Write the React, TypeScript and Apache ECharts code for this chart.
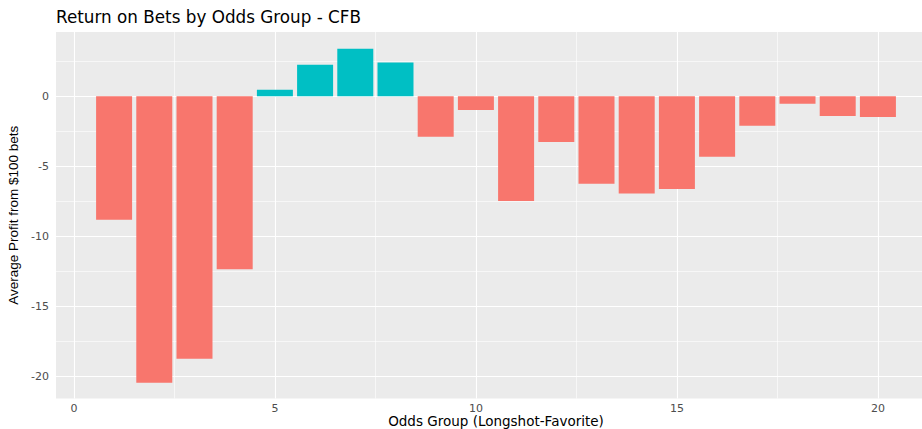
import React, { useEffect, useRef } from "react";
import * as echarts from "echarts";

const groups = [1, 2, 3, 4, 5, 6, 7, 8, 9, 10, 11, 12, 13, 14, 15, 16, 17, 18, 19, 20];
const avgProfit = [-8.82, -20.45, -18.75, -12.35, 0.45, 2.25, 3.38, 2.4, -2.9, -0.98, -7.48, -3.27, -6.25, -6.95, -6.62, -4.32, -2.12, -0.54, -1.42, -1.48];
const xTicks = [0, 5, 10, 15, 20];
const yTicks = [-20, -15, -10, -5, 0];
const xMinor = [2.5, 7.5, 12.5, 17.5];
const yMinor = [-17.5, -12.5, -7.5, -2.5, 2.5];

const POS = "#00BFC4";
const NEG = "#F8766D";

export default function App() {
  const ref = useRef<HTMLDivElement>(null);
  useEffect(() => {
    if (!ref.current) return;
    const chart = echarts.init(ref.current, undefined, { renderer: "svg" });
    const barData = groups.map((g, i) => ({
      value: [g, avgProfit[i]],
      itemStyle: { color: avgProfit[i] >= 0 ? POS : NEG },
    }));
    const gridLine = (w: number) => ({ color: "#FFFFFF", width: w, type: "solid" as const });
    chart.setOption({
      animation: false,
      title: {
        text: "Return on Bets by Odds Group - CFB",
        left: 56,
        top: 8,
        padding: 0,
        textStyle: { fontFamily: "DejaVu Sans", fontSize: 16.8, fontWeight: "normal", color: "#000" },
      },
      grid: {
        left: 56,
        top: 32,
        width: 880,
        height: 366.6,
        show: true,
        backgroundColor: "#EBEBEB",
        borderWidth: 0,
        containLabel: false,
        outerBoundsMode: "none",
      },
      xAxis: {
        type: "value",
        min: -0.445,
        max: 21.445,
        name: "Odds Group (Longshot-Favorite)",
        nameLocation: "middle",
        nameGap: 15.5,
        nameMoveOverlap: false,
        nameTextStyle: { fontFamily: "DejaVu Sans", fontSize: 13.5, color: "#000" },
        axisLine: { show: false },
        axisTick: { show: true, customValues: xTicks, length: 3.5, lineStyle: { color: "#333", width: 1 } },
        axisLabel: { customValues: xTicks, fontFamily: "DejaVu Sans", fontSize: 11, color: "#4D4D4D", margin: 4 },
        splitLine: { show: false },
      },
      yAxis: {
        type: "value",
        min: -21.59,
        max: 4.58,
        name: "Average Profit from $100 bets",
        nameLocation: "middle",
        nameGap: 32,
        nameTextStyle: { fontFamily: "Liberation Sans", fontSize: 13.5, color: "#000" },
        axisLine: { show: false },
        axisTick: { show: true, customValues: yTicks, length: 3.5, lineStyle: { color: "#333", width: 1 } },
        axisLabel: { customValues: yTicks, fontFamily: "DejaVu Sans", fontSize: 11, color: "#4D4D4D", margin: 7 },
        splitLine: { show: false },
      },
      series: [
        {
          type: "line",
          data: [],
          silent: true,
          markLine: {
            silent: true,
            symbol: "none",
            z: 1,
            label: { show: false },
            lineStyle: gridLine(0.6),
            data: [...xMinor.map((v) => ({ xAxis: v })), ...yMinor.map((v) => ({ yAxis: v }))],
          },
        },
        {
          type: "line",
          data: [],
          silent: true,
          markLine: {
            silent: true,
            symbol: "none",
            z: 1,
            label: { show: false },
            lineStyle: gridLine(1.1),
            data: [...xTicks.map((v) => ({ xAxis: v })), ...yTicks.map((v) => ({ yAxis: v }))],
          },
        },
        {
          type: "bar",
          z: 3,
          barWidth: 36,
          data: barData,
        },
      ],
    });
    return () => chart.dispose();
  }, []);
  return (
    <div
      ref={ref}
      style={{ position: "absolute", left: 0, top: 0, width: 922, height: 429, background: "#fff" }}
    />
  );
}
